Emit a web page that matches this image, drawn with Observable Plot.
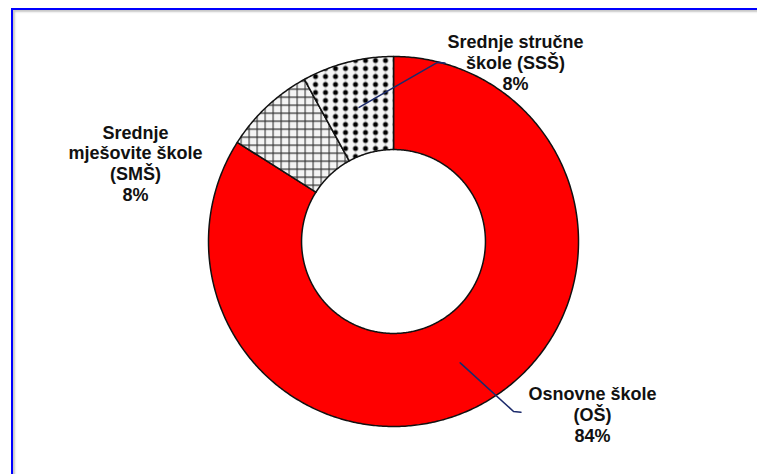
<!DOCTYPE html>
<html>
<head>
<meta charset="utf-8">
<script src="https://cdn.jsdelivr.net/npm/d3@7"></script>
<script src="https://cdn.jsdelivr.net/npm/@observablehq/plot@0.6"></script>
<style>
  html, body { margin: 0; padding: 0; background: #fff; }
  #wrap { position: relative; width: 757px; height: 474px; overflow: hidden; }
  #frame { position: absolute; left: 11px; top: 8px; width: 800px; height: 520px;
           border: 2px solid #0000ff; box-shadow: inset 2px 2px 2px #c8c8c8; box-sizing: border-box; }
  #chart { position: absolute; left: 0; top: 0; }
</style>
</head>
<body>
<div id="wrap"><div id="chart"></div><div id="frame"></div></div>
<script>
// ---- data ----
const categories = ["Osnovne škole (OŠ)", "Srednje mješovite škole (SMŠ)", "Srednje stručne škole (SSŠ)"];
const labelText = ["Osnovne škole\n(OŠ)", "Srednje\nmješovite škole\n(SMŠ)", "Srednje stručne\nškole (SSŠ)"];
const shares = [84, 8, 8];

// ---- layout / style (not data) ----
const fills = ["#ff0000", "url(#hatchCross)", "url(#hatchDots)"];
const R_OUT = 1, R_IN = 0.497;
const labelPos = [ [1.076, -0.935], [-1.395, 0.424], [0.659, 0.968] ];
const leaderElbow = [ [0.649, -0.919], null, [0.238, 0.968] ];

const total = d3.sum(shares);
let acc = 0;
const slices = shares.map((v, i) => {
  const a0 = acc / total * 2 * Math.PI;
  acc += v;
  const a1 = acc / total * 2 * Math.PI;
  return {i, cat: categories[i], a0, a1, mid: (a0 + a1) / 2};
});

// polygon points for each ring segment
const ringPts = [];
for (const s of slices) {
  const n = Math.max(8, Math.ceil((s.a1 - s.a0) / 0.01));
  const pts = [];
  for (let k = 0; k <= n; k++) {
    const a = s.a0 + (s.a1 - s.a0) * k / n;
    pts.push([R_OUT * Math.sin(a), R_OUT * Math.cos(a)]);
  }
  for (let k = n; k >= 0; k--) {
    const a = s.a0 + (s.a1 - s.a0) * k / n;
    pts.push([R_IN * Math.sin(a), R_IN * Math.cos(a)]);
  }
  pts.push(pts[0]);
  pts.forEach(p => ringPts.push({cat: s.cat, fill: fills[s.i], x: p[0], y: p[1]}));
}

// leaders
const leaderPts = [];
slices.forEach(s => {
  const e = leaderElbow[s.i];
  if (!e) return;
  const rm = (R_OUT + R_IN) / 2;
  leaderPts.push({cat: s.cat, x: rm * Math.sin(s.mid), y: rm * Math.cos(s.mid)});
  leaderPts.push({cat: s.cat, x: e[0], y: e[1]});
  leaderPts.push({cat: s.cat, x: e[0] + 0.04, y: e[1] - 0.004});
});

const labels = slices.map(s => ({
  x: labelPos[s.i][0], y: labelPos[s.i][1],
  text: labelText[s.i] + "\n" + shares[s.i] + "%"
}));

const svg = Plot.plot({
  width: 757, height: 474, margin: 0,
  style: {fontFamily: "'Liberation Sans', Arial, sans-serif", background: "transparent"},
  x: {domain: [-1, 1], range: [208, 578], axis: null},
  y: {domain: [-1, 1], range: [426, 56], axis: null},
  color: {type: "identity"},
  marks: [
    Plot.line(ringPts, {x: "x", y: "y", z: "cat", fill: "fill", stroke: "#111", strokeWidth: 1.5, curve: "linear"}),
    Plot.line(leaderPts, {x: "x", y: "y", z: "cat", stroke: "#1b2a6b", strokeWidth: 1.6, curve: "linear"}),
    Plot.text(labels, {x: "x", y: "y", text: "text", fontSize: 18, fontWeight: "bold", lineHeight: 1.15,
                       textAnchor: "middle", lineAnchor: "middle", fill: "#111"})
  ]
});

const defs = d3.select(svg).insert("defs", ":first-child");
const pc = defs.append("pattern").attr("id", "hatchCross").attr("patternUnits", "userSpaceOnUse")
  .attr("width", 8).attr("height", 8);
pc.append("rect").attr("width", 8).attr("height", 8).attr("fill", "#f4f4f4");
pc.append("path").attr("d", "M0 0.6H8M0.6 0V8").attr("stroke", "#333").attr("stroke-width", 1.1).attr("fill", "none");

const pd = defs.append("pattern").attr("id", "hatchDots").attr("patternUnits", "userSpaceOnUse")
  .attr("width", 10).attr("height", 8);
pd.append("rect").attr("width", 10).attr("height", 8).attr("fill", "#f6f6f6");
pd.append("path").attr("d", "M5 0V8").attr("stroke", "#999").attr("stroke-width", 0.6);
pd.append("circle").attr("cx", 5).attr("cy", 4).attr("r", 2.5).attr("fill", "#000");

document.getElementById("chart").appendChild(svg);
</script>
</body>
</html>
